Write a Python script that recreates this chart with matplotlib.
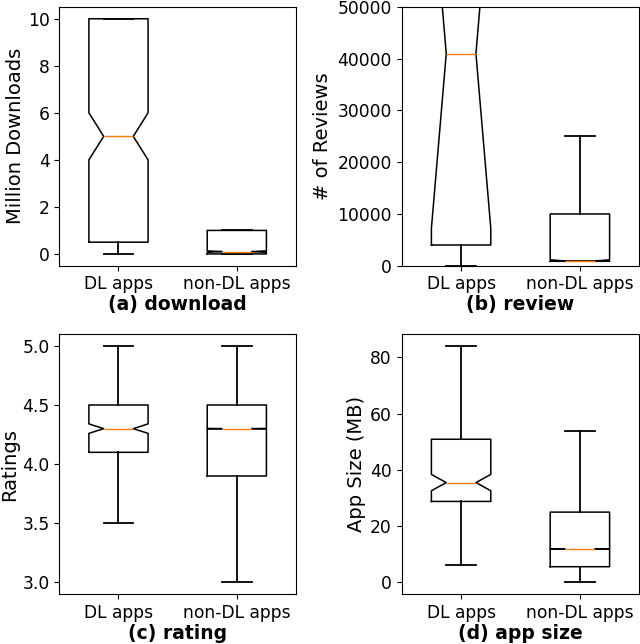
import matplotlib
matplotlib.use("Agg")
import matplotlib.pyplot as plt

categories = ["DL apps", "non-DL apps"]

# (a) download, million downloads
dl_download = dict(whislo=0.0, q1=0.5, med=5.0, q3=10.0, whishi=10.0, cilo=4.0, cihi=6.0)
non_download = dict(whislo=0.0, q1=0.0, med=0.1, q3=1.0, whishi=1.0, cilo=0.07, cihi=0.13)

# (b) review count
dl_review = dict(whislo=0.0, q1=4000, med=41000, q3=100000, whishi=100000, cilo=7200, cihi=75000)
non_review = dict(whislo=850, q1=850, med=900, q3=10000, whishi=25000, cilo=880, cihi=1150)

# (c) rating
dl_rating = dict(whislo=3.5, q1=4.1, med=4.3, q3=4.5, whishi=5.0, cilo=4.26, cihi=4.34)
non_rating = dict(whislo=3.0, q1=3.9, med=4.3, q3=4.5, whishi=5.0, cilo=4.298, cihi=4.302)

# (d) app size (MB)
dl_size = dict(whislo=6.2, q1=28.8, med=35.5, q3=50.9, whishi=84.1, cilo=32.6, cihi=38.4)
non_size = dict(whislo=0.0, q1=5.6, med=11.9, q3=25.0, whishi=54.0, cilo=11.85, cihi=11.95)

panels = [
    ("(a) download", "Million Downloads", [dl_download, non_download], None),
    ("(b) review", "# of Reviews", [dl_review, non_review], (0, 50000)),
    ("(c) rating", "Ratings", [dl_rating, non_rating], None),
    ("(d) app size", "App Size (MB)", [dl_size, non_size], None),
]

W, H = 640, 644
fig = plt.figure(figsize=(W / 100, H / 100), dpi=100)

# axes boxes in pixels: left, top, right, bottom
boxes = [
    (59.3, 7.0, 296.0, 265.7),
    (401.7, 7.0, 639.3, 265.7),
    (59.3, 334.0, 296.0, 594.3),
    (401.7, 334.0, 639.3, 594.3),
]
# ylabel centre x in pixels
ylabel_x = [15.8, 322.0, 10.0, 356.5]

for (title, ylabel, stats, ylim), (l, t, r, b), yx in zip(panels, boxes, ylabel_x):
    ax = fig.add_axes([l / W, 1 - b / H, (r - l) / W, (b - t) / H])
    st = []
    for s, lab in zip(stats, categories):
        d = dict(s)
        d["label"] = lab
        d["fliers"] = []
        st.append(d)
    ax.bxp(st, shownotches=True, showfliers=False, widths=0.5,
           boxprops=dict(color="black", linewidth=1.1),
           whiskerprops=dict(color="black", linewidth=1.3),
           capprops=dict(color="black", linewidth=1.3),
           medianprops=dict(color="#ff7f0e", linewidth=1.0))
    if ylim is not None:
        ax.set_ylim(*ylim)
    ax.set_xlim(0.5, 2.5)
    ax.tick_params(labelsize=12.3)
    ax.set_ylabel(ylabel, fontsize=14, va="center")
    ax.yaxis.set_label_coords((yx - l) / (r - l), 0.5)
    ax.set_xlabel(title, fontsize=13.5, fontweight="bold", va="center")
    ax.xaxis.set_label_coords(0.5, -39.0 / (b - t))

fig.savefig("out.png", dpi=100)
